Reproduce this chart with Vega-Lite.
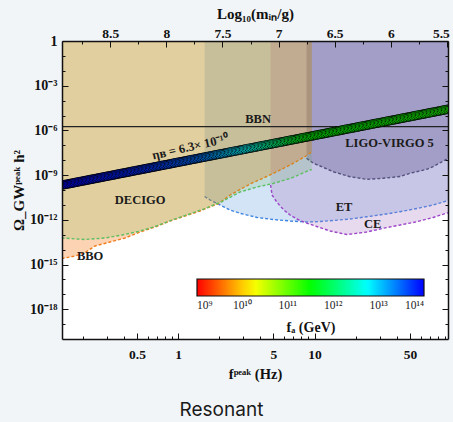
{
  "$schema": "https://vega.github.io/schema/vega-lite/v6.json",
  "width": 386,
  "height": 298,
  "autosize": {"type": "none"},
  "padding": {"left": 62, "top": 41, "right": 5, "bottom": 83},
  "background": "#f2f5f8",
  "title": {"text": "Resonant", "orient": "bottom", "anchor": "middle", "frame": "bounds", "font": "Inter", "fontSize": 19, "fontWeight": "normal", "color": "#1a1a1a", "offset": 20, "dx": -9},
  "datasets": {
    "et": [
      {"f":1.564,"omega":3.66e-11},{"f":1.716,"omega":2.13e-11},{"f":1.931,"omega":1.24e-11},{"f":2.404,"omega":4.55e-12},{"f":2.846,"omega":2.73e-12},{"f":3.791,"omega":1.43e-12},{"f":4.966,"omega":1.05e-12},{"f":6.615,"omega":8.3e-13},{"f":8.813,"omega":7.11e-13},{"f":10.97,"omega":7.69e-13},{"f":13.66,"omega":8.97e-13},{"f":18.2,"omega":1.13e-12},{"f":24.25,"omega":1.61e-12},{"f":31.76,"omega":2.27e-12},{"f":42.31,"omega":3.5e-12},{"f":56.35,"omega":5.73e-12},{"f":73.83,"omega":9.84e-12},{"f":96,"omega":2.0e-11}
    ],
    "ce": [
      {"f":4.761,"omega":2.17e-10},{"f":4.883,"omega":4.61e-11},{"f":5.223,"omega":1.83e-11},{"f":5.588,"omega":8.43e-12},{"f":6.081,"omega":3.9e-12},{"f":6.615,"omega":2.1e-12},{"f":7.406,"omega":1.13e-12},{"f":8.519,"omega":6.59e-13},{"f":10.38,"omega":3.55e-13},{"f":12.99,"omega":1.77e-13},{"f":17.22,"omega":1.03e-13},{"f":24.13,"omega":1.52e-13},{"f":31.76,"omega":2.69e-13},{"f":42.31,"omega":4.48e-13},{"f":56.35,"omega":7.45e-13},{"f":73.83,"omega":1.43e-12},{"f":96,"omega":3.1e-12}
    ],
    "ligo": [
      {"f":8.738,"omega":1.34e-8},{"f":9.8,"omega":6.19e-9},{"f":10.97,"omega":4.08e-9},{"f":13.66,"omega":1.69e-9},{"f":18.2,"omega":7.82e-10},{"f":24.13,"omega":5.22e-10},{"f":31.76,"omega":6.1e-10},{"f":42.31,"omega":8.05e-10},{"f":50.07,"omega":1.32e-9},{"f":66.37,"omega":2.45e-9},{"f":73.83,"omega":3.66e-9},{"f":96,"omega":1.4e-8}
    ],
    "bbo": [
      {"f":0.14,"omega":2.5e-15},{"f":0.1759,"omega":3.72e-15},{"f":0.2084,"omega":6.38e-15},{"f":0.2465,"omega":1.75e-14},{"f":0.3176,"omega":3.24e-14},{"f":0.4089,"omega":6.0e-14},{"f":0.5267,"omega":1.52e-13},{"f":0.6784,"omega":3.29e-13},{"f":0.8737,"omega":8.3e-13},{"f":1.125,"omega":1.8e-12},{"f":1.449,"omega":3.9e-12},{"f":1.775,"omega":8.43e-12},{"f":1.963,"omega":1.15e-11},{"f":2.404,"omega":4.61e-11},{"f":3.369,"omega":2.53e-10},{"f":4.721,"omega":1.02e-9},{"f":6.615,"omega":4.76e-9},{"f":8.519,"omega":1.77e-8},{"f":9.55,"omega":3.7e-8}
    ],
    "decigo": [
      {"f":0.14,"omega":6.0e-14},{"f":0.2084,"omega":4.76e-14},{"f":0.2918,"omega":6.0e-14},{"f":0.3889,"omega":9.55e-14},{"f":0.5093,"omega":1.64e-13},{"f":0.6784,"omega":3.55e-13},{"f":0.9038,"omega":9.7e-13},{"f":1.184,"omega":2.27e-12},{"f":1.577,"omega":5.73e-12},{"f":2.101,"omega":1.69e-11},{"f":2.846,"omega":7.34e-11},{"f":3.791,"omega":1.59e-10},{"f":4.966,"omega":2.73e-10},{"f":6.615,"omega":5.91e-10},{"f":9.269,"omega":2.2e-9},{"f":9.55,"omega":2.35e-9}
    ],
    "labels": [
      {"f":0.5267,"omega":2.13e-11,"label":"DECIGO"},
      {"f":0.2266,"omega":3.72e-15,"label":"BBO"},
      {"f":16.45,"omega":7.57e-12,"label":"ET"},
      {"f":26.61,"omega":4.99e-13,"label":"CE"},
      {"f":35.44,"omega":1.36e-7,"label":"LIGO-VIRGO 5"},
      {"f":3.856,"omega":5.82e-6,"label":"BBN"}
    ],
    "eta": [
      {"f":1.224,"omega":7.69e-8,"label":"ηʙ = 6.3× 10⁻¹⁰"}
    ],
    "bbn": [
      {"omega":1.77e-6}
    ],
    "points": [
      {"f":0.1318,"omega":1.89e-10,"fa":1.0e14},{"f":0.1349,"omega":1.97e-10,"fa":1.0e14},{"f":0.1380,"omega":2.05e-10,"fa":9.8e13},{"f":0.1413,"omega":2.14e-10,"fa":9.8e13},{"f":0.1445,"omega":2.23e-10,"fa":9.8e13},
      {"f":0.1479,"omega":2.32e-10,"fa":9.5e13},{"f":0.1514,"omega":2.42e-10,"fa":9.5e13},{"f":0.1549,"omega":2.52e-10,"fa":9.3e13},{"f":0.1585,"omega":2.63e-10,"fa":9.3e13},{"f":0.1622,"omega":2.74e-10,"fa":9.3e13},
      {"f":0.1660,"omega":2.86e-10,"fa":9.1e13},{"f":0.1698,"omega":2.98e-10,"fa":9.1e13},{"f":0.1738,"omega":3.10e-10,"fa":9.1e13},{"f":0.1778,"omega":3.24e-10,"fa":8.9e13},{"f":0.1820,"omega":3.37e-10,"fa":8.9e13},
      {"f":0.1862,"omega":3.52e-10,"fa":8.7e13},{"f":0.1905,"omega":3.66e-10,"fa":8.7e13},{"f":0.1950,"omega":3.82e-10,"fa":8.7e13},{"f":0.1995,"omega":3.98e-10,"fa":8.5e13},{"f":0.2042,"omega":4.15e-10,"fa":8.5e13},
      {"f":0.2089,"omega":4.33e-10,"fa":8.5e13},{"f":0.2138,"omega":4.51e-10,"fa":8.3e13},{"f":0.2188,"omega":4.70e-10,"fa":8.3e13},{"f":0.2239,"omega":4.90e-10,"fa":8.3e13},{"f":0.2291,"omega":5.11e-10,"fa":8.1e13},
      {"f":0.2344,"omega":5.32e-10,"fa":8.1e13},{"f":0.2399,"omega":5.55e-10,"fa":7.9e13},{"f":0.2455,"omega":5.78e-10,"fa":7.9e13},{"f":0.2512,"omega":6.03e-10,"fa":7.9e13},{"f":0.2570,"omega":6.28e-10,"fa":7.8e13},
      {"f":0.2630,"omega":6.55e-10,"fa":7.8e13},{"f":0.2692,"omega":6.82e-10,"fa":7.8e13},{"f":0.2754,"omega":7.11e-10,"fa":7.6e13},{"f":0.2818,"omega":7.41e-10,"fa":7.6e13},{"f":0.2884,"omega":7.73e-10,"fa":7.6e13},
      {"f":0.2951,"omega":8.05e-10,"fa":7.4e13},{"f":0.3020,"omega":8.40e-10,"fa":7.4e13},{"f":0.3090,"omega":8.75e-10,"fa":7.2e13},{"f":0.3162,"omega":9.12e-10,"fa":7.2e13},{"f":0.3236,"omega":9.51e-10,"fa":7.2e13},
      {"f":0.3311,"omega":9.91e-10,"fa":7.1e13},{"f":0.3388,"omega":1.03e-9,"fa":7.1e13},{"f":0.3467,"omega":1.08e-9,"fa":7.1e13},{"f":0.3548,"omega":1.12e-9,"fa":6.9e13},{"f":0.3631,"omega":1.17e-9,"fa":6.9e13},
      {"f":0.3715,"omega":1.22e-9,"fa":6.8e13},{"f":0.3802,"omega":1.27e-9,"fa":6.8e13},{"f":0.3890,"omega":1.32e-9,"fa":6.8e13},{"f":0.3981,"omega":1.38e-9,"fa":6.6e13},{"f":0.4074,"omega":1.44e-9,"fa":6.6e13},
      {"f":0.4169,"omega":1.50e-9,"fa":6.6e13},{"f":0.4266,"omega":1.56e-9,"fa":6.5e13},{"f":0.4365,"omega":1.63e-9,"fa":6.5e13},{"f":0.4467,"omega":1.70e-9,"fa":6.5e13},{"f":0.4571,"omega":1.77e-9,"fa":6.3e13},
      {"f":0.4677,"omega":1.85e-9,"fa":6.3e13},{"f":0.4786,"omega":1.92e-9,"fa":6.2e13},{"f":0.4898,"omega":2.00e-9,"fa":6.2e13},{"f":0.5012,"omega":2.09e-9,"fa":6.2e13},{"f":0.5129,"omega":2.18e-9,"fa":6.0e13},
      {"f":0.5248,"omega":2.27e-9,"fa":6.0e13},{"f":0.5370,"omega":2.37e-9,"fa":6.0e13},{"f":0.5495,"omega":2.47e-9,"fa":5.9e13},{"f":0.5623,"omega":2.57e-9,"fa":5.9e13},{"f":0.5754,"omega":2.68e-9,"fa":5.75e13},
      {"f":0.5888,"omega":2.79e-9,"fa":5.75e13},{"f":0.6026,"omega":2.91e-9,"fa":5.75e13},{"f":0.6166,"omega":3.03e-9,"fa":5.6e13},{"f":0.6310,"omega":3.16e-9,"fa":5.6e13},{"f":0.6457,"omega":3.30e-9,"fa":5.5e13},
      {"f":0.6607,"omega":3.44e-9,"fa":5.37e13},{"f":0.6761,"omega":3.58e-9,"fa":5.25e13},{"f":0.6918,"omega":3.73e-9,"fa":5.25e13},{"f":0.7079,"omega":3.89e-9,"fa":5.13e13},{"f":0.7244,"omega":4.06e-9,"fa":5.01e13},
      {"f":0.7413,"omega":4.23e-9,"fa":4.90e13},{"f":0.7586,"omega":4.41e-9,"fa":4.79e13},{"f":0.7762,"omega":4.59e-9,"fa":4.68e13},{"f":0.7943,"omega":4.79e-9,"fa":4.68e13},{"f":0.8128,"omega":4.99e-9,"fa":4.57e13},
      {"f":0.8318,"omega":5.20e-9,"fa":4.47e13},{"f":0.8511,"omega":5.42e-9,"fa":4.37e13},{"f":0.8710,"omega":5.65e-9,"fa":4.27e13},{"f":0.8913,"omega":5.89e-9,"fa":4.17e13},{"f":0.9120,"omega":6.14e-9,"fa":4.17e13},
      {"f":0.9333,"omega":6.40e-9,"fa":4.07e13},{"f":0.9550,"omega":6.67e-9,"fa":3.98e13},{"f":0.9772,"omega":6.95e-9,"fa":3.89e13},{"f":1.000,"omega":7.24e-9,"fa":3.80e13},{"f":1.023,"omega":7.55e-9,"fa":3.72e13},
      {"f":1.047,"omega":7.87e-9,"fa":3.72e13},{"f":1.072,"omega":8.20e-9,"fa":3.63e13},{"f":1.096,"omega":8.55e-9,"fa":3.55e13},{"f":1.122,"omega":8.91e-9,"fa":3.47e13},{"f":1.148,"omega":9.29e-9,"fa":3.39e13},
      {"f":1.175,"omega":9.68e-9,"fa":3.31e13},{"f":1.202,"omega":1.01e-8,"fa":3.31e13},{"f":1.230,"omega":1.05e-8,"fa":3.24e13},{"f":1.259,"omega":1.10e-8,"fa":3.16e13},{"f":1.288,"omega":1.14e-8,"fa":3.09e13},
      {"f":1.318,"omega":1.19e-8,"fa":3.02e13},{"f":1.349,"omega":1.24e-8,"fa":2.95e13},{"f":1.380,"omega":1.29e-8,"fa":2.95e13},{"f":1.413,"omega":1.35e-8,"fa":2.88e13},{"f":1.445,"omega":1.41e-8,"fa":2.82e13},
      {"f":1.479,"omega":1.47e-8,"fa":2.69e13},{"f":1.514,"omega":1.53e-8,"fa":2.57e13},{"f":1.549,"omega":1.59e-8,"fa":2.51e13},{"f":1.585,"omega":1.66e-8,"fa":2.40e13},{"f":1.622,"omega":1.73e-8,"fa":2.29e13},
      {"f":1.660,"omega":1.80e-8,"fa":2.19e13},{"f":1.698,"omega":1.88e-8,"fa":2.09e13},{"f":1.738,"omega":1.96e-8,"fa":2.00e13},{"f":1.778,"omega":2.04e-8,"fa":1.95e13},{"f":1.820,"omega":2.13e-8,"fa":1.86e13},
      {"f":1.862,"omega":2.22e-8,"fa":1.78e13},{"f":1.905,"omega":2.31e-8,"fa":1.70e13},{"f":1.950,"omega":2.41e-8,"fa":1.58e13},{"f":1.995,"omega":2.51e-8,"fa":1.51e13},{"f":2.042,"omega":2.62e-8,"fa":1.45e13},
      {"f":2.089,"omega":2.73e-8,"fa":1.38e13},{"f":2.138,"omega":2.84e-8,"fa":1.29e13},{"f":2.188,"omega":2.97e-8,"fa":1.23e13},{"f":2.239,"omega":3.09e-8,"fa":1.17e13},{"f":2.291,"omega":3.22e-8,"fa":1.12e13},
      {"f":2.344,"omega":3.36e-8,"fa":1.05e13},{"f":2.399,"omega":3.50e-8,"fa":1.00e13},{"f":2.455,"omega":3.65e-8,"fa":9.55e12},{"f":2.512,"omega":3.80e-8,"fa":9.12e12},{"f":2.570,"omega":3.96e-8,"fa":8.71e12},
      {"f":2.630,"omega":4.13e-8,"fa":8.32e12},{"f":2.692,"omega":4.31e-8,"fa":7.94e12},{"f":2.754,"omega":4.49e-8,"fa":7.59e12},{"f":2.818,"omega":4.68e-8,"fa":7.24e12},{"f":2.884,"omega":4.88e-8,"fa":6.92e12},
      {"f":2.951,"omega":5.08e-8,"fa":6.61e12},{"f":3.020,"omega":5.30e-8,"fa":6.31e12},{"f":3.090,"omega":5.52e-8,"fa":6.03e12},{"f":3.162,"omega":5.75e-8,"fa":5.75e12},{"f":3.236,"omega":6.00e-8,"fa":5.50e12},
      {"f":3.311,"omega":6.25e-8,"fa":5.25e12},{"f":3.388,"omega":6.52e-8,"fa":5.01e12},{"f":3.467,"omega":6.79e-8,"fa":4.68e12},{"f":3.548,"omega":7.08e-8,"fa":4.37e12},{"f":3.631,"omega":7.38e-8,"fa":4.07e12},
      {"f":3.715,"omega":7.69e-8,"fa":3.89e12},{"f":3.802,"omega":8.02e-8,"fa":3.63e12},{"f":3.890,"omega":8.36e-8,"fa":3.39e12},{"f":3.981,"omega":8.71e-8,"fa":3.16e12},{"f":4.074,"omega":9.08e-8,"fa":2.95e12},
      {"f":4.169,"omega":9.46e-8,"fa":2.75e12},{"f":4.266,"omega":9.86e-8,"fa":2.57e12},{"f":4.365,"omega":1.03e-7,"fa":2.45e12},{"f":4.467,"omega":1.07e-7,"fa":2.29e12},{"f":4.571,"omega":1.12e-7,"fa":2.14e12},
      {"f":4.677,"omega":1.16e-7,"fa":2.00e12},{"f":4.786,"omega":1.21e-7,"fa":1.86e12},{"f":4.898,"omega":1.26e-7,"fa":1.74e12},{"f":5.012,"omega":1.32e-7,"fa":1.62e12},{"f":5.129,"omega":1.37e-7,"fa":1.51e12},
      {"f":5.248,"omega":1.43e-7,"fa":1.41e12},{"f":5.370,"omega":1.49e-7,"fa":1.32e12},{"f":5.495,"omega":1.56e-7,"fa":1.23e12},{"f":5.623,"omega":1.62e-7,"fa":1.15e12},{"f":5.754,"omega":1.69e-7,"fa":1.07e12},
      {"f":5.888,"omega":1.76e-7,"fa":1.00e12},{"f":6.026,"omega":1.84e-7,"fa":9.33e11},{"f":6.166,"omega":1.91e-7,"fa":8.71e11},{"f":6.310,"omega":2.00e-7,"fa":8.13e11},{"f":6.457,"omega":2.08e-7,"fa":7.59e11},
      {"f":6.607,"omega":2.17e-7,"fa":7.08e11},{"f":6.761,"omega":2.26e-7,"fa":6.76e11},{"f":6.918,"omega":2.36e-7,"fa":6.31e11},{"f":7.079,"omega":2.45e-7,"fa":6.03e11},{"f":7.244,"omega":2.56e-7,"fa":5.75e11},
      {"f":7.413,"omega":2.67e-7,"fa":5.50e11},{"f":7.586,"omega":2.78e-7,"fa":5.13e11},{"f":7.762,"omega":2.90e-7,"fa":4.90e11},{"f":7.943,"omega":3.02e-7,"fa":4.68e11},{"f":8.128,"omega":3.15e-7,"fa":4.47e11},
      {"f":8.318,"omega":3.28e-7,"fa":4.17e11},{"f":8.511,"omega":3.42e-7,"fa":3.98e11},{"f":8.710,"omega":3.56e-7,"fa":3.89e11},{"f":8.913,"omega":3.72e-7,"fa":3.80e11},{"f":9.120,"omega":3.87e-7,"fa":3.72e11},
      {"f":9.333,"omega":4.04e-7,"fa":3.63e11},{"f":9.550,"omega":4.21e-7,"fa":3.55e11},{"f":9.772,"omega":4.39e-7,"fa":3.55e11},{"f":10.00,"omega":4.57e-7,"fa":3.47e11},{"f":10.23,"omega":4.76e-7,"fa":3.39e11},
      {"f":10.47,"omega":4.97e-7,"fa":3.31e11},{"f":10.72,"omega":5.18e-7,"fa":3.24e11},{"f":10.96,"omega":5.40e-7,"fa":3.16e11},{"f":11.22,"omega":5.62e-7,"fa":3.16e11},{"f":11.48,"omega":5.86e-7,"fa":3.16e11},
      {"f":11.75,"omega":6.11e-7,"fa":3.16e11},{"f":12.02,"omega":6.37e-7,"fa":3.09e11},{"f":12.30,"omega":6.64e-7,"fa":3.09e11},{"f":12.59,"omega":6.92e-7,"fa":3.09e11},{"f":12.88,"omega":7.21e-7,"fa":3.09e11},
      {"f":13.18,"omega":7.52e-7,"fa":3.09e11},{"f":13.49,"omega":7.83e-7,"fa":3.09e11},{"f":13.80,"omega":8.17e-7,"fa":3.02e11},{"f":14.13,"omega":8.51e-7,"fa":3.02e11},{"f":14.45,"omega":8.87e-7,"fa":3.02e11},
      {"f":14.79,"omega":9.25e-7,"fa":3.02e11},{"f":15.14,"omega":9.64e-7,"fa":3.02e11},{"f":15.49,"omega":1.00e-6,"fa":3.02e11},{"f":15.85,"omega":1.05e-6,"fa":2.95e11},{"f":16.22,"omega":1.09e-6,"fa":2.95e11},
      {"f":16.60,"omega":1.14e-6,"fa":2.95e11},{"f":16.98,"omega":1.19e-6,"fa":2.95e11},{"f":17.38,"omega":1.24e-6,"fa":2.95e11},{"f":17.78,"omega":1.29e-6,"fa":2.95e11},{"f":18.20,"omega":1.34e-6,"fa":2.95e11},
      {"f":18.62,"omega":1.40e-6,"fa":2.88e11},{"f":19.05,"omega":1.46e-6,"fa":2.88e11},{"f":19.50,"omega":1.52e-6,"fa":2.88e11},{"f":19.95,"omega":1.58e-6,"fa":2.88e11},{"f":20.42,"omega":1.65e-6,"fa":2.88e11},
      {"f":20.89,"omega":1.72e-6,"fa":2.88e11},{"f":21.38,"omega":1.79e-6,"fa":2.82e11},{"f":21.88,"omega":1.87e-6,"fa":2.82e11},{"f":22.39,"omega":1.95e-6,"fa":2.82e11},{"f":22.91,"omega":2.03e-6,"fa":2.82e11},
      {"f":23.44,"omega":2.12e-6,"fa":2.82e11},{"f":23.99,"omega":2.21e-6,"fa":2.82e11},{"f":24.55,"omega":2.30e-6,"fa":2.75e11},{"f":25.12,"omega":2.40e-6,"fa":2.75e11},{"f":25.70,"omega":2.50e-6,"fa":2.75e11},
      {"f":26.30,"omega":2.61e-6,"fa":2.75e11},{"f":26.92,"omega":2.72e-6,"fa":2.75e11},{"f":27.54,"omega":2.83e-6,"fa":2.75e11},{"f":28.18,"omega":2.95e-6,"fa":2.75e11},{"f":28.84,"omega":3.08e-6,"fa":2.69e11},
      {"f":29.51,"omega":3.21e-6,"fa":2.69e11},{"f":30.20,"omega":3.34e-6,"fa":2.69e11},{"f":30.90,"omega":3.48e-6,"fa":2.69e11},{"f":31.62,"omega":3.63e-6,"fa":2.69e11},{"f":32.36,"omega":3.78e-6,"fa":2.69e11},
      {"f":33.11,"omega":3.94e-6,"fa":2.63e11},{"f":33.88,"omega":4.11e-6,"fa":2.63e11},{"f":34.67,"omega":4.29e-6,"fa":2.63e11},{"f":35.48,"omega":4.47e-6,"fa":2.63e11},{"f":36.31,"omega":4.66e-6,"fa":2.63e11},
      {"f":37.15,"omega":4.85e-6,"fa":2.63e11},{"f":38.02,"omega":5.06e-6,"fa":2.63e11},{"f":38.90,"omega":5.27e-6,"fa":2.57e11},{"f":39.81,"omega":5.50e-6,"fa":2.57e11},{"f":40.74,"omega":5.73e-6,"fa":2.57e11},
      {"f":41.69,"omega":5.97e-6,"fa":2.57e11},{"f":42.66,"omega":6.22e-6,"fa":2.57e11},{"f":43.65,"omega":6.49e-6,"fa":2.57e11},{"f":44.67,"omega":6.76e-6,"fa":2.51e11},{"f":45.71,"omega":7.05e-6,"fa":2.51e11},
      {"f":46.77,"omega":7.35e-6,"fa":2.51e11},{"f":47.86,"omega":7.66e-6,"fa":2.51e11},{"f":48.98,"omega":7.98e-6,"fa":2.51e11},{"f":50.12,"omega":8.32e-6,"fa":2.51e11},{"f":51.29,"omega":8.67e-6,"fa":2.45e11},
      {"f":52.48,"omega":9.04e-6,"fa":2.45e11},{"f":53.70,"omega":9.42e-6,"fa":2.45e11},{"f":54.95,"omega":9.82e-6,"fa":2.45e11},{"f":56.23,"omega":1.02e-5,"fa":2.45e11},{"f":57.54,"omega":1.07e-5,"fa":2.45e11},
      {"f":58.88,"omega":1.11e-5,"fa":2.45e11},{"f":60.26,"omega":1.16e-5,"fa":2.40e11},{"f":61.66,"omega":1.21e-5,"fa":2.40e11},{"f":63.10,"omega":1.26e-5,"fa":2.40e11},{"f":64.57,"omega":1.31e-5,"fa":2.40e11},
      {"f":66.07,"omega":1.37e-5,"fa":2.40e11},{"f":67.61,"omega":1.43e-5,"fa":2.40e11},{"f":69.18,"omega":1.49e-5,"fa":2.34e11},{"f":70.79,"omega":1.55e-5,"fa":2.34e11},{"f":72.44,"omega":1.61e-5,"fa":2.34e11},
      {"f":74.13,"omega":1.68e-5,"fa":2.34e11},{"f":75.86,"omega":1.75e-5,"fa":2.34e11},{"f":77.62,"omega":1.83e-5,"fa":2.34e11},{"f":79.43,"omega":1.91e-5,"fa":2.34e11},{"f":81.28,"omega":1.99e-5,"fa":2.29e11},
      {"f":83.18,"omega":2.07e-5,"fa":2.29e11},{"f":85.11,"omega":2.16e-5,"fa":2.29e11},{"f":87.10,"omega":2.25e-5,"fa":2.29e11},{"f":89.13,"omega":2.34e-5,"fa":2.29e11},{"f":91.20,"omega":2.44e-5,"fa":2.29e11},
      {"f":93.33,"omega":2.55e-5,"fa":2.24e11},{"f":95.50,"omega":2.65e-5,"fa":2.24e11},{"f":97.72,"omega":2.77e-5,"fa":2.24e11},{"f":100.0,"omega":2.88e-5,"fa":2.24e11}
    ]
  },
  "layer": [
    {
      "layer": [
        {"data": {"name": "et"}, "mark": {"type": "area", "color": "#629fdf", "opacity": 0.28, "clip": true},
         "encoding": {"x": {"field": "f", "type": "quantitative", "scale": {"type": "log", "domain": [0.141, 95], "nice": false}, "axis": null},
                      "y": {"field": "omega", "type": "quantitative", "scale": {"type": "log", "domain": [1e-20, 1], "nice": false}, "axis": null},
                      "y2": {"datum": 1}}},
        {"data": {"name": "et"}, "mark": {"type": "line", "color": "#3d85e0", "strokeWidth": 1.4, "strokeDash": [3, 2], "clip": true},
         "encoding": {"x": {"field": "f", "type": "quantitative", "scale": {"type": "log", "domain": [0.141, 95], "nice": false}, "axis": null},
                      "y": {"field": "omega", "type": "quantitative", "scale": {"type": "log", "domain": [1e-20, 1], "nice": false}, "axis": null}}},
        {"data": {"name": "ce"}, "mark": {"type": "area", "color": "#ad7bc2", "opacity": 0.28, "clip": true},
         "encoding": {"x": {"field": "f", "type": "quantitative", "scale": {"type": "log", "domain": [0.141, 95], "nice": false}, "axis": null},
                      "y": {"field": "omega", "type": "quantitative", "scale": {"type": "log", "domain": [1e-20, 1], "nice": false}, "axis": null},
                      "y2": {"datum": 1}}},
        {"data": {"name": "ce"}, "mark": {"type": "line", "color": "#9c45c9", "strokeWidth": 1.4, "strokeDash": [3, 2], "clip": true},
         "encoding": {"x": {"field": "f", "type": "quantitative", "scale": {"type": "log", "domain": [0.141, 95], "nice": false}, "axis": null},
                      "y": {"field": "omega", "type": "quantitative", "scale": {"type": "log", "domain": [1e-20, 1], "nice": false}, "axis": null}}},
        {"data": {"name": "ligo"}, "mark": {"type": "area", "color": "#686198", "opacity": 0.4, "clip": true},
         "encoding": {"x": {"field": "f", "type": "quantitative", "scale": {"type": "log", "domain": [0.141, 95], "nice": false}, "axis": null},
                      "y": {"field": "omega", "type": "quantitative", "scale": {"type": "log", "domain": [1e-20, 1], "nice": false}, "axis": null},
                      "y2": {"datum": 1}}},
        {"data": {"name": "ligo"}, "mark": {"type": "line", "color": "#55527e", "strokeWidth": 1.4, "strokeDash": [3, 2], "clip": true},
         "encoding": {"x": {"field": "f", "type": "quantitative", "scale": {"type": "log", "domain": [0.141, 95], "nice": false}, "axis": null},
                      "y": {"field": "omega", "type": "quantitative", "scale": {"type": "log", "domain": [1e-20, 1], "nice": false}, "axis": null}}},
        {"data": {"name": "bbo"}, "mark": {"type": "area", "color": "#f57005", "opacity": 0.3, "clip": true},
         "encoding": {"x": {"field": "f", "type": "quantitative", "scale": {"type": "log", "domain": [0.141, 95], "nice": false}, "axis": null},
                      "y": {"field": "omega", "type": "quantitative", "scale": {"type": "log", "domain": [1e-20, 1], "nice": false}, "axis": null},
                      "y2": {"datum": 1}}},
        {"data": {"name": "bbo"}, "mark": {"type": "line", "color": "#f07d1c", "strokeWidth": 1.4, "strokeDash": [3, 2], "clip": true},
         "encoding": {"x": {"field": "f", "type": "quantitative", "scale": {"type": "log", "domain": [0.141, 95], "nice": false}, "axis": null},
                      "y": {"field": "omega", "type": "quantitative", "scale": {"type": "log", "domain": [1e-20, 1], "nice": false}, "axis": null}}},
        {"data": {"name": "decigo"}, "mark": {"type": "area", "color": "#46b121", "opacity": 0.143, "clip": true},
         "encoding": {"x": {"field": "f", "type": "quantitative", "scale": {"type": "log", "domain": [0.141, 95], "nice": false}, "axis": null},
                      "y": {"field": "omega", "type": "quantitative", "scale": {"type": "log", "domain": [1e-20, 1], "nice": false}, "axis": null},
                      "y2": {"datum": 1}}},
        {"data": {"name": "decigo"}, "mark": {"type": "line", "color": "#5cbf62", "strokeWidth": 1.4, "strokeDash": [3, 2], "clip": true},
         "encoding": {"x": {"field": "f", "type": "quantitative", "scale": {"type": "log", "domain": [0.141, 95], "nice": false}, "axis": null},
                      "y": {"field": "omega", "type": "quantitative", "scale": {"type": "log", "domain": [1e-20, 1], "nice": false}, "axis": null}}},
        {"data": {"name": "bbn"}, "mark": {"type": "rule", "color": "#222222", "strokeWidth": 1.3},
         "encoding": {"y": {"field": "omega", "type": "quantitative", "scale": {"type": "log", "domain": [1e-20, 1], "nice": false}, "axis": null}}},
        {"data": {"name": "points"}, "mark": {"type": "circle", "size": 72, "stroke": "#000000", "strokeWidth": 0.85, "opacity": 1, "clip": true},
         "encoding": {"x": {"field": "f", "type": "quantitative", "scale": {"type": "log", "domain": [0.141, 95], "nice": false}, "axis": null},
                      "y": {"field": "omega", "type": "quantitative", "scale": {"type": "log", "domain": [1e-20, 1], "nice": false}, "axis": null},
                      "color": {"field": "fa", "type": "quantitative",
                                "scale": {"type": "log", "domain": [1e9, 1.778e10, 3.162e11, 5.623e12, 1e14], "range": ["#ff0000", "#ffff00", "#00ff00", "#00ffff", "#0000ff"], "interpolate": "rgb"},
                                "legend": {"orient": "none", "legendX": 135, "legendY": 238, "direction": "horizontal", "padding": 0,
                                           "gradientLength": 227, "gradientThickness": 17, "gradientStrokeColor": "#111111", "gradientStrokeWidth": 1.2,
                                           "values": [1e9, 1e10, 1e11, 1e12, 1e13, 1e14],
                                           "labelExpr": "datum.value < 5e9 ? '10⁹' : datum.value < 5e10 ? '10¹⁰' : datum.value < 5e11 ? '10¹¹' : datum.value < 5e12 ? '10¹²' : datum.value < 5e13 ? '10¹³' : '10¹⁴'",
                                           "labelFont": "Liberation Serif", "labelFontSize": 11.5, "labelColor": "#222222", "labelOffset": 4, "labelOverlap": false,
                                           "title": "fₐ (GeV)", "titleOrient": "bottom", "titleAnchor": "middle", "titleFont": "Liberation Serif", "titleFontSize": 14, "titleFontWeight": "bold", "titleColor": "#111111", "titlePadding": 9}}}},
        {"data": {"name": "labels"}, "mark": {"type": "text", "font": "Liberation Serif", "fontWeight": "bold", "fontSize": 12.5, "color": "#1a1a1a", "align": "center", "baseline": "middle"},
         "encoding": {"x": {"field": "f", "type": "quantitative", "scale": {"type": "log", "domain": [0.141, 95], "nice": false}, "axis": null},
                      "y": {"field": "omega", "type": "quantitative", "scale": {"type": "log", "domain": [1e-20, 1], "nice": false}, "axis": null},
                      "text": {"field": "label"}}},
        {"data": {"name": "eta"}, "mark": {"type": "text", "font": "Liberation Serif", "fontWeight": "bold", "fontSize": 12.5, "color": "#1a1a1a", "align": "center", "baseline": "middle", "angle": 347},
         "encoding": {"x": {"field": "f", "type": "quantitative", "scale": {"type": "log", "domain": [0.141, 95], "nice": false}, "axis": null},
                      "y": {"field": "omega", "type": "quantitative", "scale": {"type": "log", "domain": [1e-20, 1], "nice": false}, "axis": null},
                      "text": {"field": "label"}}},
        {"data": {"values": [{"f": 1, "omega": 1e-10}]}, "mark": {"type": "point", "opacity": 0},
         "encoding": {"x": {"field": "f", "type": "quantitative", "scale": {"type": "log", "domain": [0.141, 95], "nice": false},
                            "axis": {"orient": "bottom", "values": [0.5, 1, 5, 10, 50], "format": "~g", "labelFlush": false, "labelOverlap": false,
                                     "tickSize": -6, "labelPadding": 14, "labelFontSize": 13.5, "domain": true, "domainWidth": 1.5,
                                     "title": "fᵖᵉᵃᵏ (Hz)", "titleFontSize": 14.5, "titlePadding": 7, "zindex": 1}},
                      "y": {"field": "omega", "type": "quantitative", "scale": {"type": "log", "domain": [1e-20, 1], "nice": false},
                            "axis": {"orient": "left", "values": [1, 1e-3, 1e-6, 1e-9, 1e-12, 1e-15, 1e-18],
                                     "labelExpr": "datum.value > 0.5 ? '1' : datum.value > 5e-4 ? '10⁻³' : datum.value > 5e-7 ? '10⁻⁶' : datum.value > 5e-10 ? '10⁻⁹' : datum.value > 5e-13 ? '10⁻¹²' : datum.value > 5e-16 ? '10⁻¹⁵' : '10⁻¹⁸'",
                                     "labelOverlap": false, "labelFlush": false, "tickSize": -6, "labelPadding": 11, "labelFontSize": 14, "domain": true, "domainWidth": 1.5,
                                     "title": "Ω_GWᵖᵉᵃᵏ h²", "titleFontSize": 15, "titlePadding": 3, "zindex": 1}}}},
        {"data": {"values": [{"f": 1, "omega": 1e-10}]}, "mark": {"type": "point", "opacity": 0},
         "encoding": {"x": {"field": "f", "type": "quantitative", "scale": {"type": "log", "domain": [0.141, 95], "nice": false},
                            "axis": {"orient": "bottom", "values": [0.2, 0.3, 0.4, 0.6, 0.7, 0.8, 0.9, 2, 3, 4, 6, 7, 8, 9, 20, 30, 40, 60, 70, 80, 90],
                                     "labels": false, "domain": false, "tickSize": -3, "title": null, "zindex": 1}},
                      "y": {"field": "omega", "type": "quantitative", "scale": {"type": "log", "domain": [1e-20, 1], "nice": false},
                            "axis": {"orient": "left", "values": [0.1, 0.01, 1e-4, 1e-5, 1e-7, 1e-8, 1e-10, 1e-11, 1e-13, 1e-14, 1e-16, 1e-17, 1e-19],
                                     "labels": false, "domain": false, "tickSize": -3, "title": null, "zindex": 1}}}},
        {"data": {"values": [{"f": 1, "omega": 1e-10}]}, "mark": {"type": "point", "opacity": 0},
         "encoding": {"y": {"field": "omega", "type": "quantitative", "scale": {"type": "log", "domain": [1e-20, 1], "nice": false},
                            "axis": {"orient": "right", "values": [1, 1e-3, 1e-6, 1e-9, 1e-12, 1e-15, 1e-18],
                                     "labels": false, "domain": true, "domainWidth": 1.5, "tickSize": -6, "title": null, "zindex": 1}}}},
        {"data": {"values": [{"f": 1, "omega": 1e-10}]}, "mark": {"type": "point", "opacity": 0},
         "encoding": {"y": {"field": "omega", "type": "quantitative", "scale": {"type": "log", "domain": [1e-20, 1], "nice": false},
                            "axis": {"orient": "right", "values": [0.1, 0.01, 1e-4, 1e-5, 1e-7, 1e-8, 1e-10, 1e-11, 1e-13, 1e-14, 1e-16, 1e-17, 1e-19],
                                     "labels": false, "domain": false, "tickSize": -3, "title": null, "zindex": 1}}}}
      ],
      "resolve": {"axis": {"x": "independent", "y": "independent"}}
    },
    {"data": {"values": [{"m": 7}]}, "mark": {"type": "point", "opacity": 0},
     "encoding": {"x": {"field": "m", "type": "quantitative", "scale": {"type": "linear", "domain": [8.93, 5.49], "zero": false, "nice": false},
                        "axis": {"orient": "top", "values": [8.5, 8, 7.5, 7, 6.5, 6, 5.5], "format": "~g", "labelFlush": false, "labelOverlap": false,
                                 "labelOffset": {"condition": {"test": "datum.value < 5.6", "value": -6}, "value": 0},
                                 "tickSize": -6, "labelPadding": 7, "labelFontSize": 13.5, "domain": true, "domainWidth": 1.5,
                                 "title": "Log₁₀(mᵢₙ/g)", "titleFontSize": 15, "titlePadding": 5, "zindex": 1}}}},
    {"data": {"values": [{"m": 7}]}, "mark": {"type": "point", "opacity": 0},
     "encoding": {"x": {"field": "m", "type": "quantitative", "scale": {"type": "linear", "domain": [8.93, 5.49], "zero": false, "nice": false},
                        "axis": {"orient": "top", "values": [8.75, 8.25, 7.75, 7.25, 6.75, 6.25, 5.75], "labels": false, "domain": false,
                                 "tickSize": -3, "title": null, "zindex": 1}}}}
  ],
  "resolve": {"scale": {"x": "independent"}},
  "config": {
    "view": {"fill": "white", "stroke": null},
    "axis": {"labelFont": "Liberation Serif", "labelFontWeight": "bold", "labelColor": "#111111", "titleFont": "Liberation Serif", "titleFontWeight": "bold", "titleColor": "#111111", "tickColor": "#111111", "tickWidth": 1, "domainColor": "#111111", "grid": false}
  }
}
